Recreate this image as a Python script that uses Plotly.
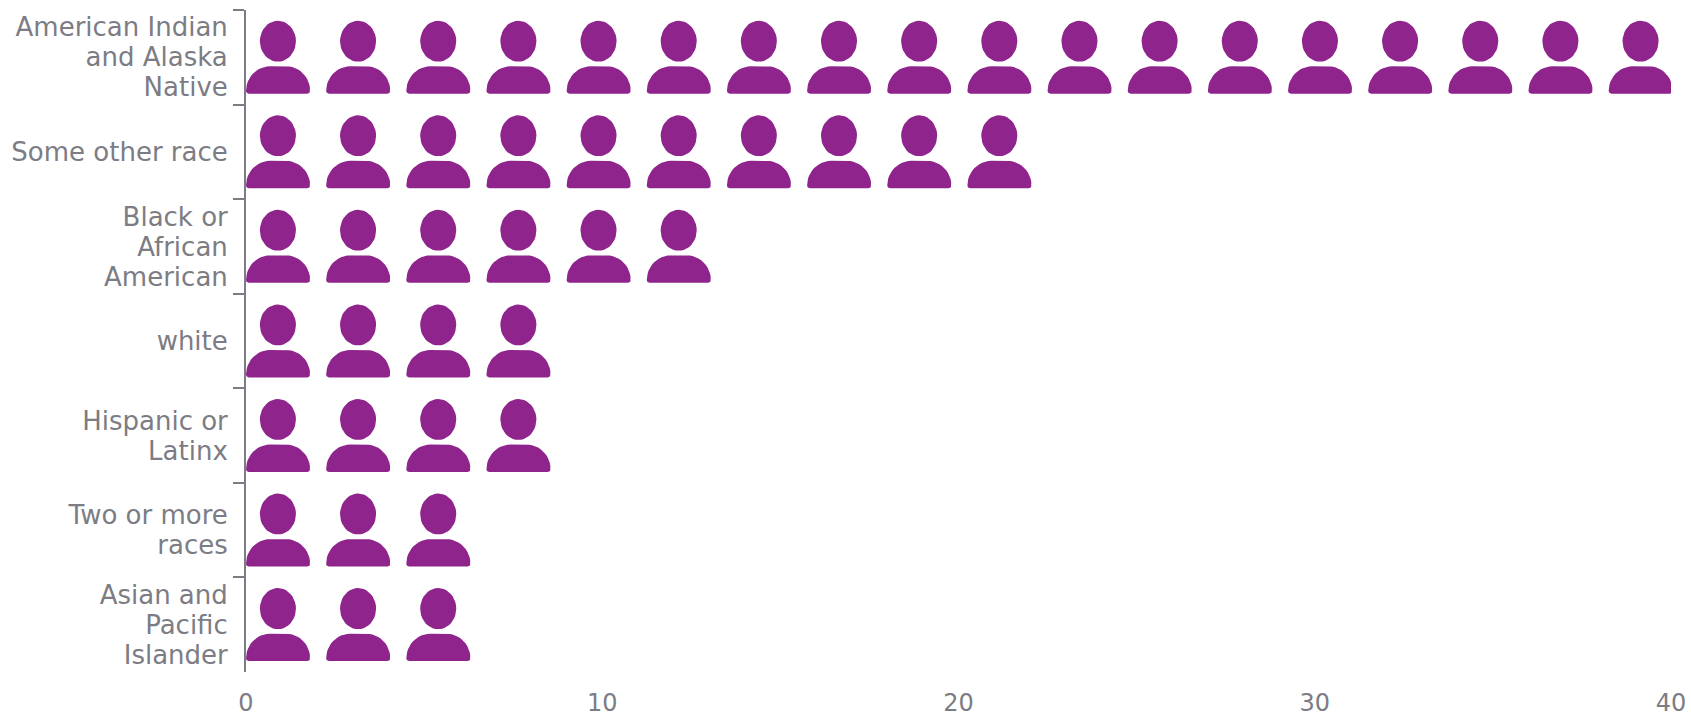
import math
import plotly.graph_objects as go

categories = [
    "American Indian<br>and Alaska<br>Native",
    "Some other race",
    "Black or<br>African<br>American",
    "white",
    "Hispanic or<br>Latinx",
    "Two or more<br>races",
    "Asian and<br>Pacific<br>Islander",
]
values = [40, 22, 13, 8, 8, 6, 6]
x_ticks = [0, 10, 20, 30, 40]
units_per_icon = 2.25

PURPLE = "#8e248c"
GRAY = "#7c7c84"
FONT = "'DejaVu Sans', Inter, sans-serif"


def icon_outline(col, row):
    """One person outline: col/row are the icon's slot on the data scales."""
    w = units_per_icon
    xs, ys = [], []
    # head: ellipse
    for i in range(41):
        t = 2 * math.pi * i / 40
        xs.append(col * w + w * (0.398 + 0.225 * math.cos(t)))
        ys.append(row + 0.33 + 0.217 * math.sin(t))
    xs.append(None)
    ys.append(None)
    # body: dome with small rounded feet
    left, right, top, bottom = 0.0, 0.80, 0.595, 0.885
    rx, ry, r = 0.30, 0.26, 0.035
    pts = []
    for i in range(13):  # left shoulder
        t = math.pi - (math.pi / 2) * i / 12
        pts.append((left + rx + rx * math.cos(t), top + ry - ry * math.sin(t)))
    for i in range(13):  # right shoulder
        t = (math.pi / 2) - (math.pi / 2) * i / 12
        pts.append((right - rx + rx * math.cos(t), top + ry - ry * math.sin(t)))
    for i in range(7):  # right foot
        t = (math.pi / 2) * i / 6
        pts.append((right - r + r * math.cos(t), bottom - 0.03 + 0.03 * math.sin(t)))
    for i in range(7):  # left foot
        t = math.pi / 2 + (math.pi / 2) * i / 6
        pts.append((left + r + r * math.cos(t), bottom - 0.03 + 0.03 * math.sin(t)))
    pts.append(pts[0])
    for px, py in pts:
        xs.append(col * w + px * w)
        ys.append(row + py)
    xs.append(None)
    ys.append(None)
    return xs, ys


fig = go.Figure()
# Invisible bars carry the category axis and the values.
fig.add_trace(go.Bar(
    y=categories, x=values, orientation="h",
    marker=dict(color="rgba(0,0,0,0)", line=dict(width=0)), opacity=0,
    showlegend=False, yaxis="y", xaxis="x",
))
for row, (cat, val) in enumerate(zip(categories, values)):
    xs, ys = [], []
    for col in range(math.ceil(val / units_per_icon)):
        a, b = icon_outline(col, row)
        xs += a
        ys += b
    fig.add_trace(go.Scatter(
        x=xs, y=ys, mode="lines", fill="toself", fillcolor=PURPLE,
        line=dict(width=0, color=PURPLE), showlegend=False,
        name=cat.replace("<br>", " "), hoverinfo="name", xaxis="x", yaxis="y2",
    ))

fig.update_layout(
    width=1691, height=717,
    margin=dict(l=246, r=20, t=10, b=45),
    paper_bgcolor="white", plot_bgcolor="white",
    showlegend=False,
    font=dict(family=FONT, color=GRAY, size=23),
    xaxis=dict(
        range=[0, 40], tickvals=x_ticks, showgrid=False, zeroline=False,
        showline=False, ticks="", ticklabelstandoff=14, automargin=False,
        ticklabeloverflow="allow", tickfont=dict(size=24, color=GRAY),
    ),
    yaxis=dict(
        type="category", categoryorder="array", categoryarray=categories,
        range=[6.5, -0.5], tickson="boundaries", ticks="outside", ticklen=11,
        tickwidth=2, tickcolor=GRAY, showline=True, linecolor=GRAY, linewidth=2,
        ticklabelstandoff=11, automargin=False,
        showgrid=False, zeroline=False, tickfont=dict(size=26, color=GRAY),
    ),
    yaxis2=dict(
        overlaying="y", range=[7, 0], visible=False, showgrid=False, zeroline=False,
        automargin=False,
    ),
)

# Tighter line spacing for the wrapped category labels (30 px instead of 1.3 em).
tighten = """
document.body.style.margin = '0';
document.querySelectorAll('.ytick text').forEach(function (t) {
  var lines = t.querySelectorAll('tspan.line');
  var s = 30 / 26, n = lines.length;
  lines.forEach(function (l, i) {
    l.setAttribute('dy', (i * s + (n - 1) / 2 * (1.3 - s)) + 'em');
  });
});
"""
fig.write_html("out.html", post_script=tighten, config={"displayModeBar": False})
